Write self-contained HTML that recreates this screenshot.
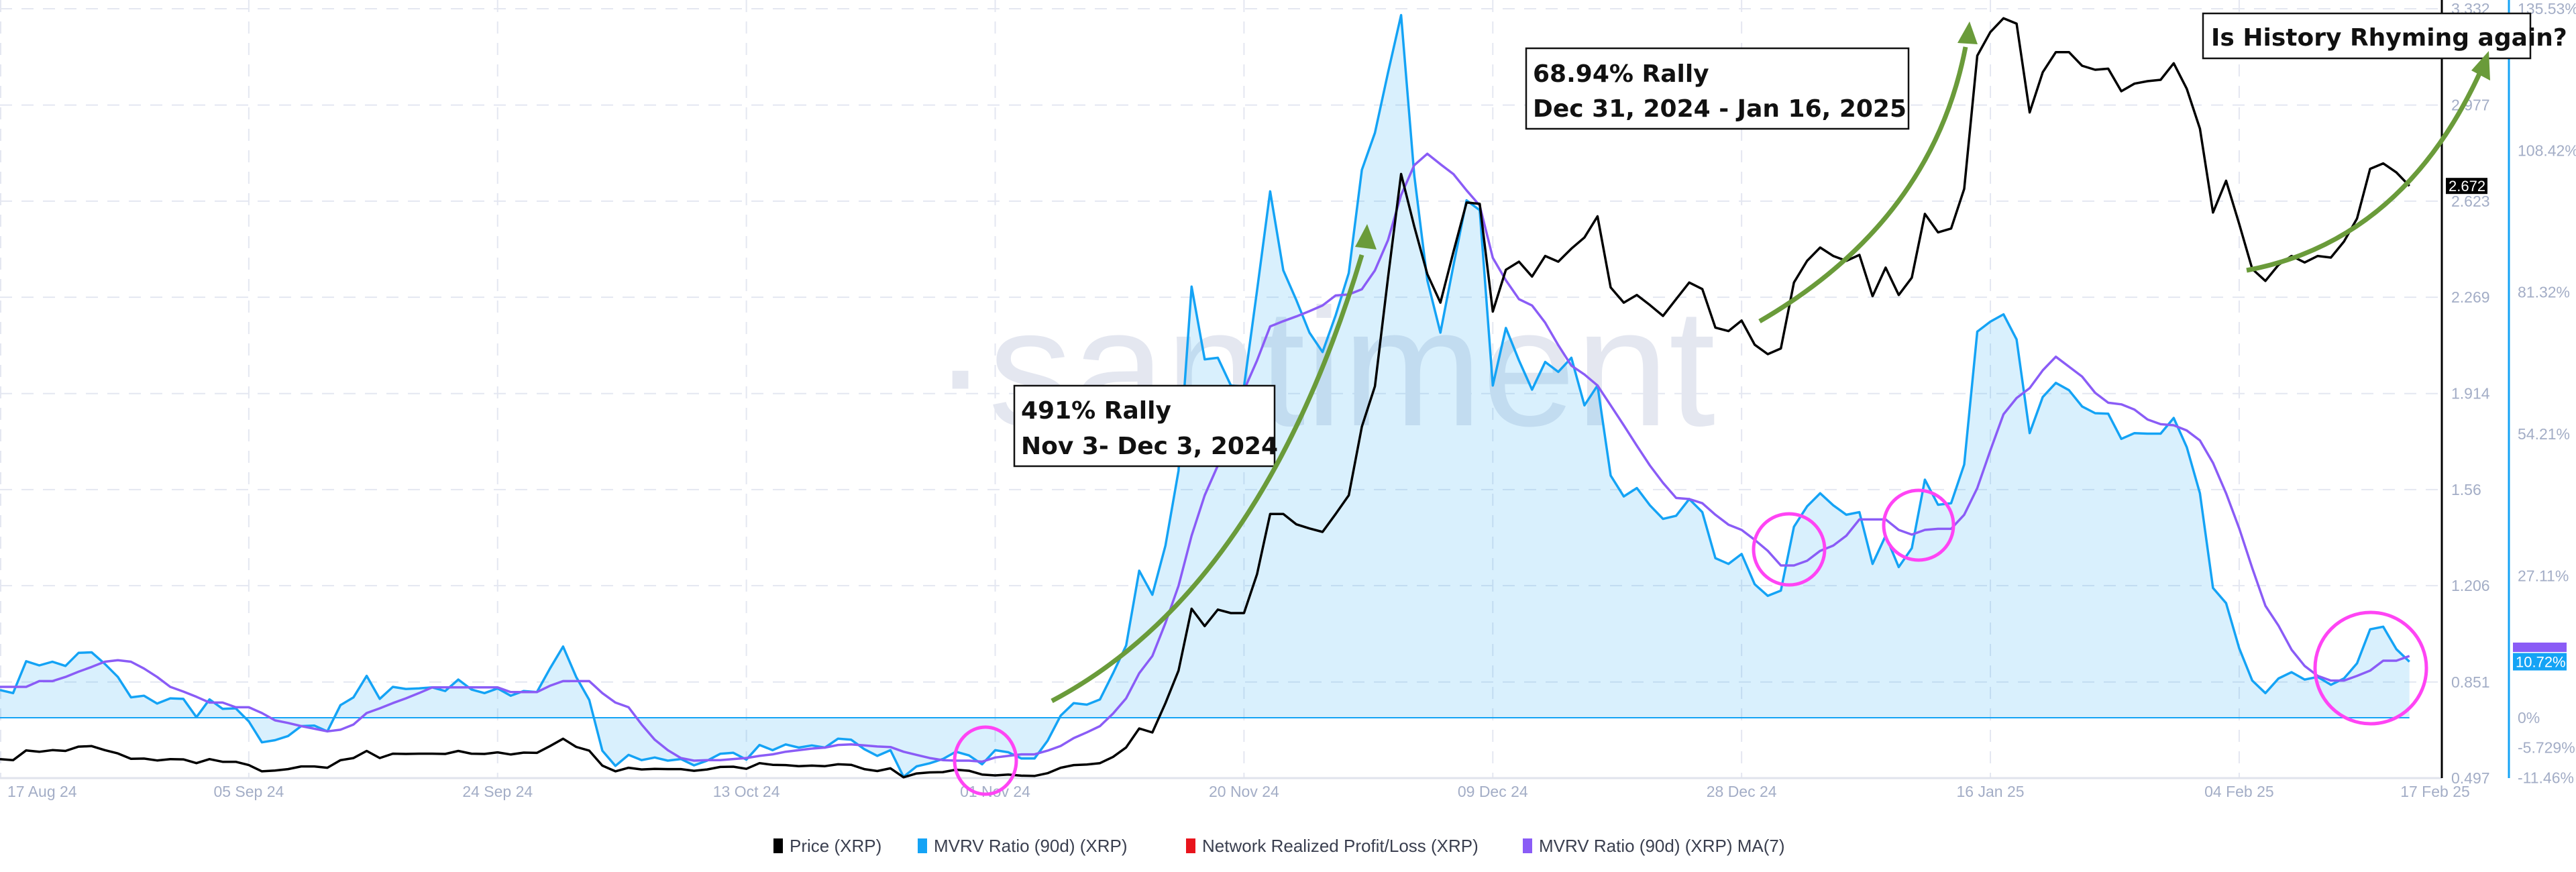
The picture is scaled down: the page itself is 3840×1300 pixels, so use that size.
<!DOCTYPE html>
<html><head><meta charset="utf-8"><title>XRP MVRV chart</title>
<style>
html,body{margin:0;padding:0;background:#fff;}
body{width:3840px;height:1300px;overflow:hidden;font-family:"Liberation Sans",sans-serif;}
svg{display:block;}
.tick{fill:#a3adc6;font-size:23px;font-family:"Liberation Sans",sans-serif;}
.ann{font-family:"DejaVu Sans","Liberation Sans",sans-serif;font-weight:bold;fill:#111;}
.leg{font-size:26px;fill:#3a3f4f;font-family:"Liberation Sans",sans-serif;}
</style></head>
<body>
<svg id="chart" width="3840" height="1300" viewBox="0 0 3840 1300" xmlns="http://www.w3.org/2000/svg">
  <g id="grid"></g>
  <text x="1390" y="634" font-size="250" fill="#e4e7f0" font-family="Liberation Sans,sans-serif">·santiment</text>
  <g id="series"></g>
  <g id="axes"></g>
  <g id="annotations">
    <rect x="1512" y="575" width="388" height="120" fill="#fff" stroke="#111" stroke-width="2.5"/>
    <text class="ann" x="1522" y="624" font-size="36">491% Rally</text>
    <text class="ann" x="1522" y="677" font-size="36">Nov 3- Dec 3, 2024</text>
    <rect x="2275" y="72" width="570" height="120" fill="#fff" stroke="#111" stroke-width="2.5"/>
    <text class="ann" x="2285" y="122" font-size="36">68.94% Rally</text>
    <text class="ann" x="2285" y="174" font-size="36">Dec 31, 2024 - Jan 16, 2025</text>
    <rect x="3284" y="20" width="488" height="67" fill="#fff" stroke="#111" stroke-width="2.5"/>
    <text class="ann" x="3296" y="68" font-size="36">Is History Rhyming again?</text>

    <path d="M1568,1045 Q1880,880 2030,380" fill="none" stroke="#6a9b3a" stroke-width="7"/>
    <polygon points="2038,334 2052,372 2020,368" fill="#6a9b3a"/>
    <path d="M2623,479 Q2880,330 2930,70" fill="none" stroke="#6a9b3a" stroke-width="7"/>
    <polygon points="2936,32 2948,66 2918,64" fill="#6a9b3a"/>
    <path d="M3349,403 Q3580,360 3696,110" fill="none" stroke="#6a9b3a" stroke-width="7"/>
    <polygon points="3710,76 3712,120 3684,105" fill="#6a9b3a"/>

    <ellipse cx="1469" cy="1134" rx="46" ry="50" fill="none" stroke="#ff44f4" stroke-width="5"/>
    <circle cx="2667" cy="819" r="53" fill="none" stroke="#ff44f4" stroke-width="5"/>
    <circle cx="2860" cy="783" r="52" fill="none" stroke="#ff44f4" stroke-width="5"/>
    <circle cx="3534" cy="996" r="83" fill="none" stroke="#ff44f4" stroke-width="5"/>
  </g>
  <g id="legend">
    <g>
      <rect x="1153" y="1250" width="14" height="22" fill="#000"/>
      <text class="leg" x="1177" y="1270">Price (XRP)</text>
    </g>
    <g>
      <rect x="1368" y="1250" width="14" height="22" fill="#14a3f5"/>
      <text class="leg" x="1392" y="1270">MVRV Ratio (90d) (XRP)</text>
    </g>
    <g>
      <rect x="1768" y="1250" width="14" height="22" fill="#e8141c"/>
      <text class="leg" x="1792" y="1270">Network Realized Profit/Loss (XRP)</text>
    </g>
    <g>
      <rect x="2270" y="1250" width="14" height="22" fill="#8a5cf6"/>
      <text class="leg" x="2294" y="1270">MVRV Ratio (90d) (XRP) MA(7)</text>
    </g>
  </g>
</svg>
<script>
const dateLabels = ["17 Aug 24","05 Sep 24","24 Sep 24","13 Oct 24","01 Nov 24","20 Nov 24","09 Dec 24","28 Dec 24","16 Jan 25","04 Feb 25","17 Feb 25"];
const dateTickDays = [0,19,38,57,76,95,114,133,152,171,184];
const priceTicks = [0.497,0.851,1.206,1.56,1.914,2.269,2.623,2.977,3.332];
const pctTicks = [-11.46,-5.729,0,27.11,54.21,81.32,108.42,135.53];
const pctTickLabels = ["-11.46%","-5.729%","0%","27.11%","54.21%","81.32%","108.42%","135.53%"];

const price = [0.567,0.563,0.599,0.594,0.600,0.597,0.613,0.615,0.600,0.588,
0.568,0.569,0.562,0.567,0.566,0.552,0.567,0.557,0.557,0.545,
0.522,0.525,0.530,0.540,0.540,0.535,0.563,0.571,0.597,0.571,
0.587,0.586,0.587,0.587,0.586,0.597,0.587,0.586,0.592,0.584,
0.591,0.590,0.615,0.642,0.612,0.598,0.543,0.522,0.535,0.529,
0.531,0.530,0.530,0.524,0.529,0.538,0.539,0.531,0.552,0.546,
0.545,0.541,0.543,0.541,0.548,0.546,0.530,0.523,0.533,0.500,
0.514,0.518,0.519,0.528,0.524,0.510,0.507,
0.510,0.506,0.505,0.515,0.535,0.545,0.547,0.552,0.575,0.610,0.680,0.665,
0.773,0.893,1.121,1.057,1.118,1.105,1.105,1.249,1.470,1.470,
1.432,1.417,1.404,1.470,1.539,1.792,1.941,2.341,2.723,2.530,
2.354,2.249,2.437,2.618,2.613,2.216,2.370,2.400,2.345,2.421,
2.400,2.448,2.489,2.567,2.305,2.249,2.277,2.240,2.200,
2.262,2.323,2.299,2.157,2.144,2.183,2.094,2.059,2.080,2.323,
2.403,2.452,2.421,2.403,2.425,2.273,2.378,2.277,2.341,2.576,
2.508,2.522,2.668,3.159,3.246,3.297,3.277,2.950,3.098,3.172,
3.172,3.122,3.107,3.111,3.028,3.056,3.065,3.070,3.131,3.037,
2.890,2.581,2.698,2.539,2.373,2.329,2.388,2.421,2.397,2.421,
2.415,2.474,2.559,2.742,2.762,2.729,2.679];

const mvrv = [5.3,4.7,10.8,10.0,10.7,9.9,12.4,12.5,10.3,7.8,
3.9,4.2,2.7,3.7,3.6,0.1,3.5,1.7,1.8,-0.7,
-4.7,-4.3,-3.5,-1.6,-1.5,-2.6,2.4,3.9,8.0,3.6,
5.9,5.5,5.6,5.8,5.1,7.3,5.4,4.7,5.6,4.2,
5.1,4.9,9.4,13.6,7.8,3.4,-6.3,-9.2,-7.1,-8.1,
-7.6,-8.2,-7.9,-9.1,-8.2,-6.9,-6.7,-8.0,-5.2,-6.2,
-5.1,-5.7,-5.3,-5.7,-4.0,-4.2,-6.0,-7.3,-6.2,-11.3,
-9.3,-8.7,-7.9,-6.5,-7.2,-8.9,-6.2,
-6.6,-7.8,-7.8,-4.4,0.4,2.8,2.5,3.5,8.5,13.8,28.1,23.5,
32.9,47.2,82.4,68.5,68.8,63.5,63.3,81.7,100.6,85.5,
79.8,73.6,69.9,76.9,85.0,104.7,111.8,123.3,134.3,103.7,
83.6,73.6,86.5,98.9,97.0,63.5,74.5,68.3,62.7,68.0,
66.1,68.8,59.7,63.5,46.3,42.3,43.9,40.6,38.0,
38.6,41.8,39.3,30.5,29.4,31.3,25.5,23.3,24.3,36.5,
40.4,42.9,40.6,38.8,39.3,29.4,34.8,28.8,32.4,45.5,
40.7,41.0,48.4,73.8,75.7,77.1,72.3,54.4,61.3,64.0,
62.6,59.5,58.2,58.1,53.3,54.4,54.3,54.3,57.3,51.7,
42.9,24.8,21.9,13.3,7.1,4.7,7.5,8.7,7.3,7.8,
6.3,7.5,10.4,16.9,17.4,13.1,10.7];

const mvrvMa7 = [5.9,5.9,5.9,7.0,7.0,7.8,8.8,9.7,10.7,11.0,
10.7,9.4,7.8,5.9,5.0,4.0,2.9,2.9,2.0,2.0,
0.9,-0.5,-1.0,-1.6,-2.1,-2.6,-2.3,-1.3,0.9,1.8,
2.8,3.7,4.7,5.8,5.8,5.8,5.8,5.8,5.8,4.9,
4.9,4.9,6.1,7.0,7.0,7.0,4.7,2.9,2.0,-1.3,
-4.2,-6.2,-7.7,-8.2,-8.1,-8.1,-7.9,-7.7,-7.3,-7.0,
-6.5,-6.2,-5.9,-5.7,-5.2,-5.1,-5.3,-5.5,-5.6,-6.5,
-7.1,-7.7,-8.1,-8.2,-8.2,-8.4,-7.6,
-7.3,-7.0,-7.0,-6.3,-5.4,-3.9,-2.8,-1.6,0.8,3.7,8.5,11.8,
18.1,25.2,34.8,42.5,48.2,56.8,62.6,68.3,74.8,75.8,
76.7,77.7,78.8,80.7,80.9,81.9,85.5,91.3,99.9,105.6,
107.8,105.8,103.9,100.8,97.9,87.9,83.6,80.0,78.8,75.5,
71.2,67.3,65.6,63.5,59.7,55.9,52.0,48.2,44.9,
42.0,41.8,41.0,38.8,36.9,35.9,34.0,31.9,29.1,29.1,
30.0,31.9,32.9,34.8,37.9,37.9,37.9,35.9,35.0,35.9,
36.1,36.1,38.8,43.9,51.1,58.0,61.1,63.0,66.4,69.0,
67.1,65.2,62.1,60.2,59.9,58.9,57.0,56.1,55.9,54.9,
53.0,48.7,42.9,36.2,28.6,21.4,17.6,13.0,9.9,8.0,
7.1,7.1,8.0,9.0,10.9,10.9,11.8];

const NS = "http://www.w3.org/2000/svg";
const PLOT_TOP = 13, PLOT_BOTTOM = 1160, PLOT_RIGHT = 3640;
const PX_PER_DAY = 19.52;
function xDay(d){ return d * PX_PER_DAY; }
function yPrice(v){ return PLOT_BOTTOM - (v - 0.497) / (3.332 - 0.497) * (PLOT_BOTTOM - PLOT_TOP); }
function yPct(v){ return 1070 - v * 7.8; }
function mk(tag, attrs, parent){ const e=document.createElementNS(NS,tag); for(const k in attrs) e.setAttribute(k, attrs[k]); parent.appendChild(e); return e; }

const grid = document.getElementById('grid');
const axes = document.getElementById('axes');
const series = document.getElementById('series');

// horizontal grid
priceTicks.forEach((t,i)=>{
  const y = yPrice(t);
  if (i === 0) return;
  const l = mk('line',{x1:0,x2:PLOT_RIGHT,y1:y,y2:y,stroke:'#e4e7f1','stroke-width':2,'stroke-dasharray':'18,14'},grid);
  
  
});
// vertical grid
dateTickDays.forEach((d,i)=>{
  if (i === dateTickDays.length-1) return;
  const x = xDay(d)+ (i===0?1:0);
  const l = mk('line',{x1:x,x2:x,y1:0,y2:PLOT_BOTTOM,stroke:'#e4e7f1','stroke-width':2,'stroke-dasharray':'18,14'},grid);
  
  
});
// bottom axis
const ba = mk('line',{x1:0,x2:PLOT_RIGHT,y1:PLOT_BOTTOM,y2:PLOT_BOTTOM,stroke:'#e0e3ec','stroke-width':3},grid);



// MVRV fill + lines
function pathFrom(arr, yf){ return arr.map((v,i)=>(i?'L':'M')+xDay(i).toFixed(1)+','+yf(v).toFixed(1)).join(' '); }
const n = mvrv.length;
const fillD = 'M0,'+yPct(0)+' ' + mvrv.map((v,i)=>'L'+xDay(i).toFixed(1)+','+yPct(v).toFixed(1)).join(' ') + ' L'+xDay(n-1).toFixed(1)+','+yPct(0)+' Z';
const fill = mk('path',{d:fillD,fill:'rgba(20,163,245,0.16)',stroke:'none'},series);


const base = mk('line',{x1:0,x2:xDay(n-1),y1:yPct(0),y2:yPct(0),stroke:'#14a3f5','stroke-width':2},series);


const mvLine = mk('path',{d:pathFrom(mvrv,yPct),fill:'none',stroke:'#14a3f5','stroke-width':3.5,'stroke-linejoin':'round'},series);


const maLine = mk('path',{d:pathFrom(mvrvMa7,yPct),fill:'none',stroke:'#8a5cf6','stroke-width':3.5,'stroke-linejoin':'round'},series);


const prLine = mk('path',{d:pathFrom(price,yPrice),fill:'none',stroke:'#000','stroke-width':3.5,'stroke-linejoin':'round'},series);



// axis lines
const pa = mk('line',{x1:PLOT_RIGHT,x2:PLOT_RIGHT,y1:0,y2:PLOT_BOTTOM,stroke:'#000','stroke-width':3},axes);


const ma = mk('line',{x1:3740,x2:3740,y1:0,y2:PLOT_BOTTOM,stroke:'#14a3f5','stroke-width':3},axes);



// price tick labels
priceTicks.forEach(t=>{
  const tx = mk('text',{x:3654,y:yPrice(t)+8,class:'tick'},axes);
  tx.textContent = String(t);
  
  
});
// pct tick labels
pctTicks.forEach((t,i)=>{
  const tx = mk('text',{x:3753,y:yPct(t)+8,class:'tick'},axes);
  tx.textContent = pctTickLabels[i];
  
  
});
// date labels
dateLabels.forEach((lab,i)=>{
  let x = xDay(dateTickDays[i]);
  let anchor = 'middle';
  if (i === 0){ x = 11; anchor = 'start'; }
  if (i === dateLabels.length-1){ x = 3630; }
  const tx = mk('text',{x:x,y:1188,class:'tick','text-anchor':anchor},axes);
  tx.textContent = lab;
  
  
});

// last-value badges
const lastP = price[price.length-1];
const pb = mk('rect',{x:3646,y:yPrice(lastP)-12,width:62,height:24,fill:'#000'},axes);


const pbt = mk('text',{x:3650,y:yPrice(lastP)+8,fill:'#fff','font-size':22,'font-family':'Liberation Sans,sans-serif'},axes);
pbt.textContent = lastP.toFixed(3).replace(/^2\.679$/,'2.672');



const lastMa = mvrvMa7[mvrvMa7.length-1];
const mab = mk('rect',{x:3746,y:yPct(lastMa)-20,width:80,height:14,fill:'#8a5cf6'},axes);


const lastM = mvrv[mvrv.length-1];
const mb = mk('rect',{x:3746,y:yPct(lastM)-13,width:80,height:26,fill:'#14a3f5'},axes);


const mbt = mk('text',{x:3750,y:yPct(lastM)+8,fill:'#fff','font-size':22,'font-family':'Liberation Sans,sans-serif'},axes);
mbt.textContent = '10.72%';


</script>
</body></html>
